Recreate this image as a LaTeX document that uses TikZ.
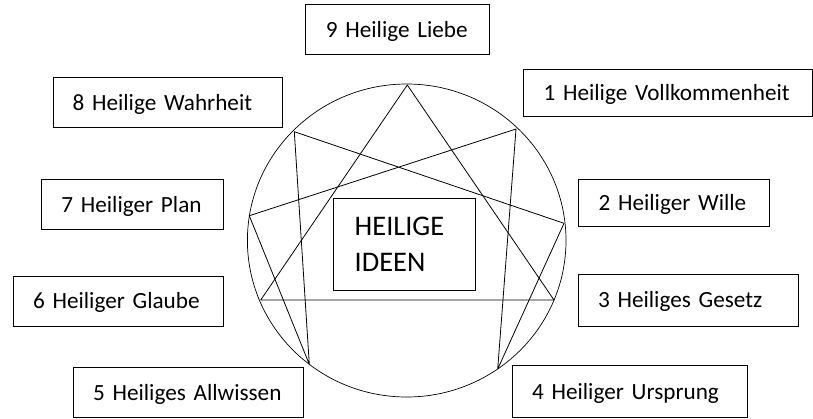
\documentclass[tikz,border=0pt]{standalone}
\usepackage{fontspec}
\setmainfont{Carlito}
\usetikzlibrary{shapes.geometric}
\begin{document}
\begin{tikzpicture}[x=1pt,y=-1pt,
  lbl/.style={draw, line width=0.8pt, anchor=north west, inner xsep=20pt, inner ysep=0pt,
    align=left, font=\fontsize{23.2}{28}\selectfont, text height=15pt, text depth=0pt},
  hub/.style={draw, line width=0.8pt, anchor=north west, inner xsep=21pt, inner ysep=0pt,
    align=left, font=\fontsize{28.4}{36}\selectfont},
  fig/.style={line width=0.8pt, line join=round}]
\useasboundingbox (0,0) rectangle (813,418);
% outer circle
\node[draw, line width=0.7pt, ellipse, minimum width=318.6pt, minimum height=313pt, inner sep=0pt] (ring) at (406.7,240.5) {};
% points of the figure
\coordinate (p9) at (407.3,85);
\coordinate (p1) at (516,129);
\coordinate (p2) at (564,223.3);
\coordinate (p3) at (554,300);
\coordinate (p4) at (497.7,369);
\coordinate (p5) at (309.3,364.3);
\coordinate (p6) at (260.7,300);
\coordinate (p7) at (249.3,215.7);
\coordinate (p8) at (294.3,131.7);
% triangle
\draw[fig] (p9) -- (p3) -- (p6) -- cycle;
% hexad
\draw[fig] (p1) -- (p4) -- (p2) -- (p8) -- (p5) -- (p7) -- cycle;
% centre
\node[hub, minimum width=141.7pt, minimum height=92.3pt, text width=99.7pt] (ideen) at (333.3,197.7) {HEILIGE\\IDEEN};
% labels
\node[lbl, minimum width=184pt, minimum height=50pt, text width=143pt, inner xsep=20.5pt] (b9) at (305,4.3) {\mbox{9 Heilige Liebe}};
\node[lbl, minimum width=229pt, minimum height=50pt, text width=190pt, inner xsep=19.5pt] (b8) at (52.7,77.3) {\mbox{8 Heilige Wahrheit}};
\node[lbl, minimum width=289pt, minimum height=46.7pt, text width=248pt, inner xsep=20.5pt] (b1) at (522.7,69.3) {\mbox{1 Heilige Vollkommenheit}};
\node[lbl, minimum width=181.7pt, minimum height=50pt, text width=141.7pt] (b7) at (41,179.3) {\mbox{7 Heiliger Plan}};
\node[lbl, minimum width=191.3pt, minimum height=46.7pt, text width=150.3pt, inner xsep=20.5pt] (b2) at (577.7,179) {\mbox{2 Heiliger Wille}};
\node[lbl, minimum width=210.6pt, minimum height=50pt, text width=170.6pt] (b6) at (12.7,275.7) {\mbox{6 Heiliger Glaube}};
\node[lbl, minimum width=220.6pt, minimum height=51.7pt, text width=180.6pt] (b3) at (577.7,274) {\mbox{3 Heiliges Gesetz}};
\node[lbl, minimum width=230pt, minimum height=50pt, text width=190pt] (b5) at (72.7,367.3) {\mbox{5 Heiliges Allwissen}};
\node[lbl, minimum width=235.6pt, minimum height=52.3pt, text width=195.6pt] (b4) at (511.7,365) {\mbox{4 Heiliger Ursprung}};
\end{tikzpicture}
\end{document}
